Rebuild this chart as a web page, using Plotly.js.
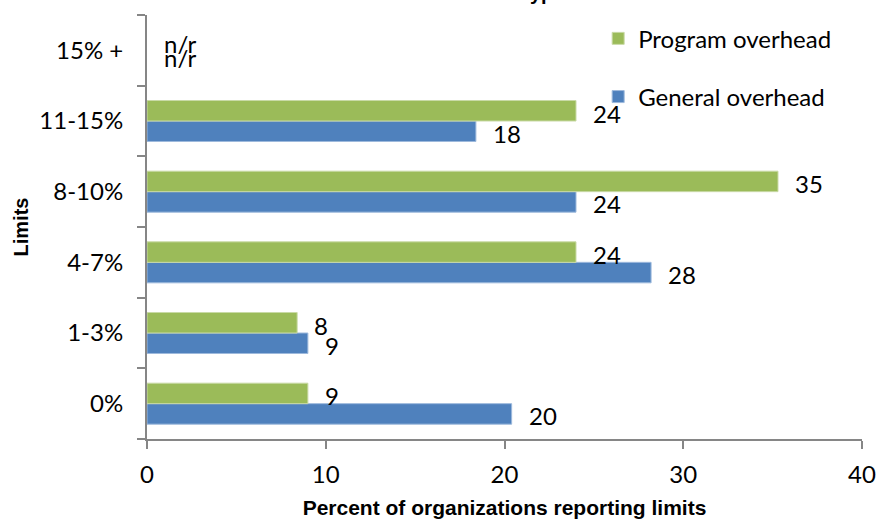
<!DOCTYPE html>
<html>
<head>
<meta charset="utf-8">
<script src="https://cdn.plot.ly/plotly-3.0.1.min.js"></script>
<style>html,body{margin:0;padding:0;background:#fff;}#chart{width:878px;height:520px;}</style>
</head>
<body>
<div id="chart"></div>
<script>
// Categories, bottom to top
var categories = ['0%', '1-3%', '4-7%', '8-10%', '11-15%', '15% +'];
// Series values (percent of organizations reporting limits); null = not reported
var generalOverhead = [20.4, 9.0, 28.2, 24.0, 18.4, null];
var programOverhead = [9.0, 8.4, 24.0, 35.3, 24.0, null];
// Data labels as printed on the chart
var generalLabels = ['20', '9', '28', '24', '18', 'n/r'];
var programLabels = ['9', '8', '24', '35', '24', 'n/r'];
var xTickValues = [0, 10, 20, 30, 40];
var seriesNames = ['General overhead', 'Program overhead'];
var chartTitle = 'Limits on Overhead Type';
var xTitle = 'Percent of organizations reporting limits';
var yTitle = 'Limits';

var labelFont = {family: 'Lato, "Open Sans", sans-serif', size: 24, color: '#000000'};

var traces = [
  {
    type: 'bar', orientation: 'h', name: seriesNames[0],
    y: categories, x: generalOverhead,
    marker: {color: '#4F81BD', line: {color: '#9DB9DC', width: 1}},
    legendgroup: 'g', legendrank: 2, hoverinfo: 'x+y'
  },
  {
    type: 'bar', orientation: 'h', name: seriesNames[1],
    y: categories, x: programOverhead,
    marker: {color: '#9BBB59', line: {color: '#C9DAA6', width: 1}},
    legendgroup: 'p', legendrank: 1, hoverinfo: 'x+y'
  }
];

var annotations = [];
function addLabels(values, labels, shiftNormal, shiftNull) {
  for (var i = 0; i < categories.length; i++) {
    var v = values[i];
    annotations.push({
      x: (v === null ? 0 : v), y: categories[i], xref: 'x', yref: 'y',
      text: labels[i], showarrow: false, xanchor: 'left', yanchor: 'middle',
      xshift: 15, yshift: (v === null ? shiftNull : shiftNormal),
      font: labelFont
    });
  }
}
addLabels(programOverhead, programLabels, 8, 7);
addLabels(generalOverhead, generalLabels, -12, -7);

// Title (only its lowest part falls inside the picture)
annotations.push({
  x: 0.417, y: 1, xref: 'paper', yref: 'paper', xanchor: 'center', yanchor: 'bottom',
  yshift: 9, showarrow: false, text: '<b>' + chartTitle + '</b>',
  font: {family: '"Liberation Sans", Arial, sans-serif', size: 20, color: '#000000'}
});

var layout = {
  width: 878, height: 520,
  margin: {l: 147, r: 16, t: 15, b: 81, pad: 0},
  paper_bgcolor: '#ffffff', plot_bgcolor: '#ffffff',
  barmode: 'group', bargap: 0.42, bargroupgap: 0,
  showlegend: true,
  legend: {
    x: 0.631, y: 0.997, xanchor: 'left', yanchor: 'top',
    traceorder: 'grouped', tracegroupgap: 24,
    font: labelFont, bgcolor: 'rgba(0,0,0,0)'
  },
  xaxis: {
    range: [0, 40], tickvals: xTickValues, ticktext: xTickValues.map(String),
    showgrid: false, zeroline: false, showline: true, linecolor: '#868686', linewidth: 2,
    ticks: 'outside', ticklen: 8, tickwidth: 2, tickcolor: '#868686',
    tickfont: labelFont, ticklabelstandoff: 5,
    title: {text: '<b>' + xTitle + '</b>', standoff: 14,
      font: {family: '"Liberation Sans", Arial, sans-serif', size: 21, color: '#000000'}},
    fixedrange: true
  },
  yaxis: {
    type: 'category', categoryorder: 'array', categoryarray: categories,
    range: [-0.5, categories.length - 0.5],
    showgrid: false, zeroline: false, showline: true, linecolor: '#868686', linewidth: 2,
    ticks: 'outside', ticklen: 8, tickwidth: 2, tickcolor: '#868686', tickson: 'boundaries',
    tickfont: labelFont, ticklabelstandoff: 17,
    title: {text: '<b>' + yTitle + '</b>', standoff: 5,
      font: {family: '"Liberation Sans", Arial, sans-serif', size: 20, color: '#000000'}},
    fixedrange: true
  },
  annotations: annotations
};

Plotly.newPlot('chart', traces, layout, {displayModeBar: false, staticPlot: true});
</script>
</body>
</html>
